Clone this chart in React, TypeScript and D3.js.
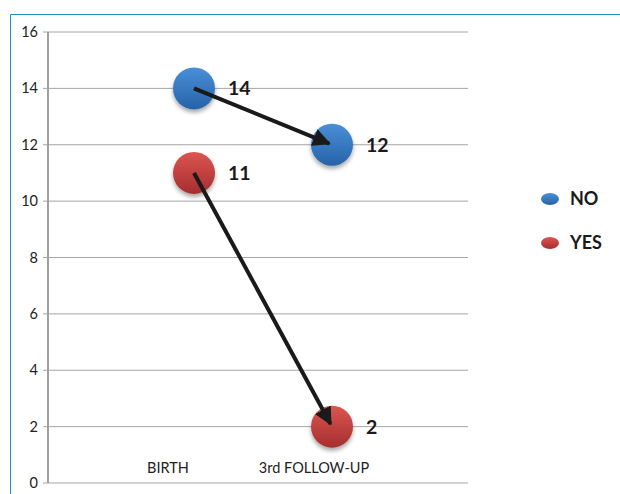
import { useEffect, useRef } from 'react'
import * as d3 from 'd3'

const categories = ['BIRTH', '3rd FOLLOW-UP']
const seriesNames = ['NO', 'YES']
const noValues = [14, 12]
const yesValues = [11, 2]
const yTicks = [0, 2, 4, 6, 8, 10, 12, 14, 16]

const COLORS: Record<string, [string, string]> = {
  NO: ['#4a8fd8', '#2762a8'],
  YES: ['#dc5552', '#a52e2e'],
}

export default function App() {
  const svgRef = useRef<SVGSVGElement>(null)

  useEffect(() => {
    document.body.style.margin = '0'
    if (!svgRef.current) return
    const svg = d3.select(svgRef.current)
    svg.selectAll('*').remove()

    const width = 620
    const height = 494
    const font = 'Lato, "Open Sans", sans-serif'

    const y = d3.scaleLinear().domain([0, 16]).range([483, 32])
    // point positions and category label positions
    const xPoint = d3.scalePoint<string>().domain(categories).range([194, 332])
    const xLabel = d3.scalePoint<string>().domain(categories).range([168, 314])

    const defs = svg.append('defs')
    Object.entries(COLORS).forEach(([k, [c1, c2]]) => {
      const g = defs.append('linearGradient').attr('id', 'grad-' + k)
        .attr('x1', 0).attr('y1', 0).attr('x2', 0).attr('y2', 1)
      g.append('stop').attr('offset', '0%').attr('stop-color', c1)
      g.append('stop').attr('offset', '100%').attr('stop-color', c2)
    })
    const f = defs.append('filter').attr('id', 'shadow')
      .attr('x', '-50%').attr('y', '-50%').attr('width', '200%').attr('height', '200%')
    f.append('feDropShadow').attr('dx', 0).attr('dy', 3).attr('stdDeviation', 2)
      .attr('flood-color', '#000').attr('flood-opacity', 0.35)
    const m = defs.append('marker').attr('id', 'arrow')
      .attr('viewBox', '0 0 10 10').attr('refX', 9).attr('refY', 5)
      .attr('markerWidth', 4.5).attr('markerHeight', 4.5).attr('orient', 'auto')
    m.append('path').attr('d', 'M0,0 L10,5 L0,10 z').attr('fill', '#1a1a1a')

    // frame
    svg.append('path')
      .attr('d', `M10.5,${height} V14.5 H${width}`)
      .attr('fill', 'none').attr('stroke', '#2a8bbf').attr('stroke-width', 1)

    // gridlines
    svg.append('g').selectAll('line').data(yTicks).join('line')
      .attr('x1', 43).attr('x2', 468)
      .attr('y1', d => y(d)).attr('y2', d => y(d))
      .attr('stroke', '#a6a6a6').attr('stroke-width', 1)

    // y axis
    svg.append('line').attr('x1', 48).attr('x2', 48)
      .attr('y1', y(16)).attr('y2', y(0))
      .attr('stroke', '#a0a0a0').attr('stroke-width', 2)

    svg.append('g').selectAll('text').data(yTicks).join('text')
      .attr('x', 38).attr('y', d => y(d)).attr('dy', '0.35em')
      .attr('text-anchor', 'end').attr('font-family', font).attr('font-size', 14.5)
      .attr('fill', '#222').text(d => d)

    svg.append('g').selectAll('text').data(categories).join('text')
      .attr('x', d => xLabel(d)!).attr('y', 473)
      .attr('text-anchor', 'middle').attr('font-family', font).attr('font-size', 14.5)
      .attr('fill', '#222').text(d => d)

    const series = [
      { name: seriesNames[0], values: noValues },
      { name: seriesNames[1], values: yesValues },
    ]

    series.forEach(s => {
      const pts = s.values.map((v, i) => ({ x: xPoint(categories[i])!, y: y(v), v }))
      svg.append('g').selectAll('circle').data(pts).join('circle')
        .attr('cx', d => d.x).attr('cy', d => d.y).attr('r', 21)
        .attr('fill', `url(#grad-${s.name})`).attr('filter', 'url(#shadow)')
      svg.append('g').selectAll('text').data(pts).join('text')
        .attr('x', d => d.x + 34).attr('y', d => d.y).attr('dy', '0.36em')
        .attr('font-family', font).attr('font-weight', 'bold').attr('font-size', 19.5)
        .attr('fill', '#1a1a1a').text(d => d.v)
    })

    series.forEach(s => {
      const x0 = xPoint(categories[0])!, y0 = y(s.values[0])
      const x1 = xPoint(categories[1])!, y1 = y(s.values[1])
      const ang = Math.atan2(y1 - y0, x1 - x0)
      svg.append('line')
        .attr('x1', x0).attr('y1', y0)
        .attr('x2', x1 - Math.cos(ang) * 3).attr('y2', y1 - Math.sin(ang) * 3)
        .attr('stroke', '#1a1a1a').attr('stroke-width', 4)
        .attr('marker-end', 'url(#arrow)')
    })

    // legend
    const legend = svg.append('g').selectAll('g').data(seriesNames).join('g')
      .attr('transform', (d, i) => `translate(550,${199 + i * 44})`)
    legend.append('ellipse').attr('rx', 9).attr('ry', 6)
      .attr('fill', d => `url(#grad-${d})`)
    legend.append('text').attr('x', 20).attr('dy', '0.36em')
      .attr('font-family', font).attr('font-weight', 'bold').attr('font-size', 18)
      .attr('fill', '#1a1a1a').text(d => d)
  }, [])

  return <svg ref={svgRef} width={620} height={494} style={{ display: 'block', background: '#fff' }} />
}
